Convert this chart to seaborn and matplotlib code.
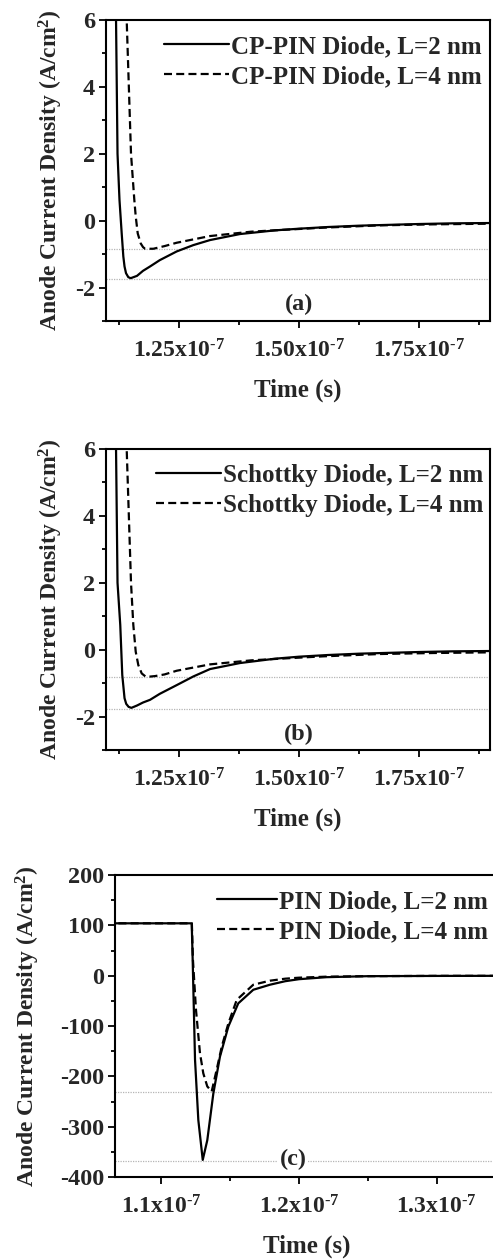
import numpy as np
import pandas as pd
import matplotlib
matplotlib.use("Agg")
import matplotlib.pyplot as plt
import seaborn as sns
from matplotlib.ticker import MultipleLocator, FixedLocator

# ---------------- data (time in units of 1e-7 s, current density A/cm^2) ----
# Panel (a): CP-PIN diode
t_a_l2 = [1.100, 1.1188, 1.1219, 1.1260, 1.1306, 1.1340, 1.1365, 1.1396, 1.1444,
          1.1494, 1.1625, 1.1750, 1.1896, 1.2100, 1.2452, 1.2800, 1.3146, 1.3770,
          1.4500, 1.5000, 1.5600, 1.6250, 1.7000, 1.7500, 1.8200, 1.9000]
j_a_l2 = [40.0, 6.0, 2.0, 0.62, -0.38, -1.07, -1.37, -1.57, -1.69,
          -1.72, -1.65, -1.50, -1.37, -1.18, -0.92, -0.73, -0.58, -0.40,
          -0.29, -0.24, -0.19, -0.15, -0.12, -0.10, -0.08, -0.07]
t_a_l4 = [1.120, 1.1410, 1.1500, 1.1569, 1.1598, 1.1640, 1.1702, 1.1750, 1.1792,
          1.1965, 1.2200, 1.2452, 1.3146, 1.4000, 1.4600, 1.5500, 1.6690, 1.7800, 1.9000]
j_a_l4 = [40.0, 6.0, 2.0, 0.62, 0.13, -0.38, -0.68, -0.79, -0.84,
          -0.84, -0.76, -0.66, -0.46, -0.33, -0.28, -0.21, -0.14, -0.11, -0.09]
ref_a = [-0.86, -1.73]

# Panel (b): Schottky diode
t_b_l2 = [1.100, 1.1188, 1.1219, 1.1276, 1.1318, 1.1365, 1.1400, 1.1450, 1.1508,
          1.1625, 1.1750, 1.1896, 1.2100, 1.2452, 1.2800, 1.3146, 1.3770,
          1.4500, 1.5000, 1.5600, 1.6250, 1.7000, 1.7500, 1.8200, 1.9000]
j_b_l2 = [40.0, 6.0, 2.0, 0.74, -0.76, -1.45, -1.62, -1.71, -1.74,
          -1.67, -1.58, -1.50, -1.32, -1.06, -0.80, -0.58, -0.40,
          -0.27, -0.21, -0.16, -0.12, -0.09, -0.07, -0.05, -0.04]
t_b_l4 = [1.120, 1.1410, 1.1500, 1.1548, 1.1598, 1.1652, 1.1723, 1.1800, 1.1860,
          1.2000, 1.2200, 1.2452, 1.3146, 1.4000, 1.4600, 1.5500, 1.6690, 1.7800, 1.9000]
j_b_l4 = [40.0, 6.0, 2.0, 0.74, -0.06, -0.46, -0.71, -0.80, -0.81,
          -0.79, -0.74, -0.63, -0.44, -0.32, -0.27, -0.20, -0.13, -0.10, -0.08]
ref_b = [-0.81, -1.76]

# Panel (c): PIN diode
t_c_l2 = [1.060, 1.1221, 1.1228, 1.1245, 1.1269, 1.1301, 1.1334, 1.1378, 1.1426,
          1.1487, 1.1559, 1.1668, 1.1789, 1.1900, 1.2000, 1.2200, 1.2500, 1.3000, 1.3500]
j_c_l2 = [104, 104, 31, -167, -287, -366, -327, -234, -161,
          -101, -55, -28, -18, -11, -7, -3, -1, -0.5, -0.3]
t_c_l4 = [1.060, 1.1222, 1.1230, 1.1252, 1.1281, 1.1305, 1.1334, 1.1366, 1.1402,
          1.1439, 1.1487, 1.1548, 1.1668, 1.1789, 1.1900, 1.2000, 1.2200, 1.2500,
          1.3000, 1.3500]
j_c_l4 = [104, 104, 31, -68, -154, -194, -220, -230, -187,
          -141, -95, -48, -18, -10, -6, -4, -2, -1, -0.4, -0.3]
ref_c = [-232, -368]

labels_a = ["CP-PIN Diode, L=2 nm", "CP-PIN Diode, L=4 nm"]
labels_b = ["Schottky Diode, L=2 nm", "Schottky Diode, L=4 nm"]
labels_c = ["PIN Diode, L=2 nm", "PIN Diode, L=4 nm"]

xticks_ab = [1.25e-7, 1.50e-7, 1.75e-7]
xticklabels_ab = ["1.25x10$^{\\text{-7}}$", "1.50x10$^{\\text{-7}}$", "1.75x10$^{\\text{-7}}$"]
xticks_c = [1.1e-7, 1.2e-7, 1.3e-7]
xticklabels_c = ["1.1x10$^{\\text{-7}}$", "1.2x10$^{\\text{-7}}$", "1.3x10$^{\\text{-7}}$"]
yticks_ab = [-2, 0, 2, 4, 6]
yticks_c = [-400, -300, -200, -100, 0, 100, 200]

# ---------------- style ----------------
sns.set_theme(style="ticks")
plt.rcParams["font.family"] = ["Liberation Serif", "DejaVu Serif"]
plt.rcParams["font.weight"] = "bold"
plt.rcParams["axes.labelweight"] = "bold"
plt.rcParams["axes.unicode_minus"] = False
plt.rcParams["mathtext.fontset"] = "custom"
plt.rcParams["mathtext.rm"] = "Liberation Serif:bold"
plt.rcParams["mathtext.it"] = "Liberation Serif:bold"
plt.rcParams["mathtext.bf"] = "Liberation Serif:bold"
plt.rcParams["mathtext.default"] = "rm"

fig = plt.figure(figsize=(4.93, 12.59), dpi=100)
W, H = 493.0, 1259.0


def make_ax(left, top, right, bottom):
    return fig.add_axes([left / W, 1 - bottom / H, (right - left) / W, (bottom - top) / H])


ax_a = make_ax(106, 20, 490, 321)
ax_b = make_ax(106, 449, 490, 750)
ax_c = make_ax(115, 875, 499, 1177)


def build_df(t1, j1, t2, j2, labels):
    d1 = pd.DataFrame({"t": np.array(t1) * 1e-7, "j": j1, "series": labels[0]})
    d2 = pd.DataFrame({"t": np.array(t2) * 1e-7, "j": j2, "series": labels[1]})
    return pd.concat([d1, d2], ignore_index=True)


def draw(ax, df, labels, refs, xlim, ylim, xticks, xticklabels, yticks,
         xminor, yminor, tag, tag_xy, legend_anchor, handlelen, ylabel_x):
    sns.lineplot(data=df, x="t", y="j", style="series", style_order=labels,
                 dashes={labels[0]: "", labels[1]: (3.6, 1.9)},
                 color="black", linewidth=1.6, estimator=None, sort=False,
                 legend=False, ax=ax)
    lines = list(ax.lines[:2])
    for r in refs:
        ax.axhline(r, color="#b5b5b5", linestyle=(0, (1, 1)), linewidth=0.9, zorder=0)
    ax.set_xlim(*xlim)
    ax.set_ylim(*ylim)
    ax.set_xticks(xticks, labels=xticklabels)
    ax.set_yticks(yticks)
    ax.xaxis.set_minor_locator(FixedLocator(xminor))
    ax.yaxis.set_minor_locator(MultipleLocator(yminor))
    ax.tick_params(which="major", direction="out", length=5, width=1.3,
                   color="black")
    ax.tick_params(which="minor", direction="out", length=3, width=1.3, color="black")
    ax.tick_params(axis="x", which="major", labelsize=17, pad=8)
    ax.tick_params(axis="y", which="major", labelsize=17.5, pad=3)
    for s in ax.spines.values():
        s.set_linewidth(1.5)
        s.set_color("black")
    ax.set_xlabel("Time (s)", fontsize=18, fontweight="bold", labelpad=12)
    ax.set_ylabel("Anode Current Density (A/cm$^2$)", fontsize=17, fontweight="bold")
    ax.yaxis.set_label_coords(ylabel_x, 0.5)
    ax.legend(lines, labels, loc="upper right", bbox_to_anchor=legend_anchor,
              frameon=False, handlelength=handlelen, handletextpad=0.1,
              prop={"family": "Liberation Serif", "weight": "bold", "size": 18},
              labelspacing=0.28, borderaxespad=0.2)
    ax.text(tag_xy[0], tag_xy[1], tag, ha="center", va="center", fontsize=17.5,
            fontweight="bold",
            bbox=dict(facecolor="white", edgecolor="none", pad=1.0))


df_a = build_df(t_a_l2, j_a_l2, t_a_l4, j_a_l4, labels_a)
df_b = build_df(t_b_l2, j_b_l2, t_b_l4, j_b_l4, labels_b)
df_c = build_df(t_c_l2, j_c_l2, t_c_l4, j_c_l4, labels_c)

draw(ax_a, df_a, labels_a, ref_a, (1.0979e-7, 1.8979e-7), (-3, 6), xticks_ab,
     xticklabels_ab, yticks_ab, [1.125e-7, 1.375e-7, 1.625e-7, 1.875e-7], 1,
     "(a)", (1.5e-7, -2.52), (1.018, 1.0), 2.6, -0.107)
draw(ax_b, df_b, labels_b, ref_b, (1.0979e-7, 1.8979e-7), (-3, 6), xticks_ab,
     xticklabels_ab, yticks_ab, [1.125e-7, 1.375e-7, 1.625e-7, 1.875e-7], 1,
     "(b)", (1.5e-7, -2.55), (1.023, 1.0), 2.6, -0.107)
draw(ax_c, df_c, labels_c, ref_c, (1.0664e-7, 1.3452e-7), (-400, 200), xticks_c,
     xticklabels_c, yticks_c, [1.15e-7, 1.25e-7], 50,
     "(c)", (1.1957e-7, -366), (1.011, 1.0), 2.4, -0.191)

fig.savefig("out.png", dpi=100)
